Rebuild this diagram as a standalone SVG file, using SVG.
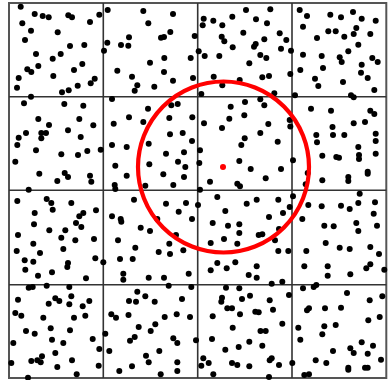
<svg xmlns="http://www.w3.org/2000/svg" width="389" height="380" viewBox="0 0 389 380">
<style>
.grid{stroke:#333;stroke-width:1.6;fill:none}
.border{stroke:#555;stroke-width:2;fill:none}
.pts circle{fill:#000}
.ring{stroke:#f00;stroke-width:4.2;fill:none}
</style>
<rect width="389" height="380" fill="#fff"/>
<g id="grid">
<rect class="border" x="9" y="3" width="377.3" height="375"/>
<path class="grid" d="M103.3 3V378M197.7 3V378M292 3V378M9 96.7H386.3M9 190.3H386.3M9 284.7H386.3"/>
</g>
<g id="points" class="pts">
<circle cx="20.7" cy="6.7" r="3"/><circle cx="34.7" cy="14" r="3"/><circle cx="42.7" cy="16" r="3"/><circle cx="48.7" cy="17.3" r="3"/><circle cx="68.3" cy="15.3" r="3"/><circle cx="72" cy="17.3" r="3"/><circle cx="99.3" cy="14.7" r="3"/><circle cx="107.7" cy="10" r="3"/><circle cx="22.3" cy="23.3" r="3"/><circle cx="90" cy="22" r="3"/><circle cx="31" cy="30.7" r="3"/><circle cx="57.7" cy="32.3" r="3"/><circle cx="129" cy="37.3" r="3"/><circle cx="25" cy="40" r="3"/><circle cx="70" cy="46" r="3"/><circle cx="84.3" cy="45" r="3"/><circle cx="107.3" cy="42.7" r="3"/><circle cx="104" cy="50.7" r="3"/><circle cx="121" cy="45" r="3"/><circle cx="128.3" cy="45.7" r="3"/><circle cx="36" cy="54" r="3"/><circle cx="60.7" cy="54" r="3"/><circle cx="52.7" cy="58.7" r="3"/><circle cx="82.3" cy="64" r="3"/><circle cx="38.3" cy="66" r="3"/><circle cx="27.3" cy="69.3" r="3"/><circle cx="31.3" cy="72" r="3"/><circle cx="74" cy="70" r="3"/><circle cx="117.3" cy="70.7" r="3"/><circle cx="18.7" cy="78" r="3"/><circle cx="53.3" cy="76" r="3"/><circle cx="94.7" cy="78.7" r="3"/><circle cx="90.7" cy="83.3" r="3"/><circle cx="17" cy="87.7" r="3"/><circle cx="77.7" cy="85.7" r="3"/><circle cx="68.7" cy="90.3" r="3"/><circle cx="62" cy="92.3" r="3"/><circle cx="31" cy="96.7" r="3"/><circle cx="24" cy="103.3" r="3"/><circle cx="64.3" cy="104" r="3"/><circle cx="83.3" cy="105.7" r="3"/><circle cx="112" cy="99" r="3"/><circle cx="38.3" cy="119" r="3"/><circle cx="49" cy="125" r="3"/><circle cx="79.3" cy="119" r="3"/><circle cx="93.3" cy="125.3" r="3"/><circle cx="113.7" cy="123.7" r="3"/><circle cx="129" cy="117.3" r="3"/>
<circle cx="143.3" cy="11" r="3"/><circle cx="173" cy="14" r="3"/><circle cx="148.3" cy="23.3" r="3"/><circle cx="161" cy="37.7" r="3"/><circle cx="164" cy="37" r="3"/><circle cx="170.3" cy="32" r="3"/><circle cx="194.7" cy="36" r="3"/><circle cx="203.7" cy="18.7" r="3"/><circle cx="202.7" cy="25.3" r="3"/><circle cx="213.3" cy="20.7" r="3"/><circle cx="222.3" cy="25.3" r="3"/><circle cx="232.3" cy="16.7" r="3"/><circle cx="246" cy="10" r="3"/><circle cx="256" cy="19.3" r="3"/><circle cx="221.7" cy="36.7" r="3"/><circle cx="224.3" cy="41.3" r="3"/><circle cx="243.3" cy="32.7" r="3"/><circle cx="255.7" cy="44" r="3"/><circle cx="254" cy="46.7" r="3"/><circle cx="232.7" cy="47.3" r="3"/><circle cx="198.7" cy="51.3" r="3"/><circle cx="204.7" cy="56" r="3"/><circle cx="219.3" cy="56" r="3"/><circle cx="190.7" cy="58" r="3"/><circle cx="164.3" cy="58" r="3"/><circle cx="150" cy="62.7" r="3"/><circle cx="249.3" cy="63.3" r="3"/><circle cx="164" cy="72" r="3"/><circle cx="132" cy="76.7" r="3"/><circle cx="137.3" cy="85.3" r="3"/><circle cx="134.7" cy="90.7" r="3"/><circle cx="173" cy="80.7" r="3"/><circle cx="154.3" cy="86.7" r="3"/><circle cx="193" cy="78" r="3"/><circle cx="213.7" cy="76.7" r="3"/><circle cx="222.3" cy="85.3" r="3"/><circle cx="239.7" cy="80" r="3"/><circle cx="201.3" cy="94" r="3"/><circle cx="230.7" cy="106.7" r="3"/><circle cx="245" cy="102" r="3"/><circle cx="244.3" cy="115.3" r="3"/><circle cx="229.3" cy="118.7" r="3"/><circle cx="204" cy="123.3" r="3"/><circle cx="192.3" cy="117.3" r="3"/><circle cx="169.3" cy="118" r="3"/><circle cx="171.3" cy="105.3" r="3"/><circle cx="177.7" cy="104" r="3"/><circle cx="148" cy="108.7" r="3"/><circle cx="143.3" cy="122" r="3"/><circle cx="222" cy="128" r="3"/>
<circle cx="270.3" cy="9.3" r="3"/><circle cx="267" cy="23.3" r="3"/><circle cx="264.3" cy="39.3" r="3"/><circle cx="279.7" cy="33.3" r="3"/><circle cx="286.3" cy="40" r="3"/><circle cx="281" cy="48.7" r="3"/><circle cx="291" cy="50.7" r="3"/><circle cx="260.3" cy="55" r="3"/><circle cx="266.3" cy="58" r="3"/><circle cx="262.3" cy="77.3" r="3"/><circle cx="269" cy="76" r="3"/><circle cx="290.3" cy="74" r="3"/><circle cx="274.3" cy="93.3" r="3"/><circle cx="260.3" cy="99.3" r="3"/><circle cx="264.3" cy="105.3" r="3"/><circle cx="289.7" cy="120" r="3"/><circle cx="290.3" cy="126.5" r="3"/><circle cx="268.3" cy="124" r="3"/><circle cx="299.7" cy="10" r="3"/><circle cx="307" cy="16" r="3"/><circle cx="303" cy="26.7" r="3"/><circle cx="330.3" cy="14.7" r="3"/><circle cx="341" cy="17.3" r="3"/><circle cx="353" cy="12" r="3"/><circle cx="361.7" cy="18.7" r="3"/><circle cx="375.7" cy="20.7" r="3"/><circle cx="328.3" cy="31.3" r="3"/><circle cx="335.7" cy="31.3" r="3"/><circle cx="344.3" cy="36.7" r="3"/><circle cx="353.7" cy="34" r="3"/><circle cx="356.3" cy="28" r="3"/><circle cx="370.3" cy="34" r="3"/><circle cx="317" cy="38" r="3"/><circle cx="358.3" cy="44.7" r="3"/><circle cx="303" cy="54.7" r="3"/><circle cx="321.7" cy="56" r="3"/><circle cx="348.3" cy="51.3" r="3"/><circle cx="339.7" cy="57.3" r="3"/><circle cx="341.7" cy="62" r="3"/><circle cx="372.3" cy="58" r="3"/><circle cx="377.7" cy="62" r="3"/><circle cx="361.7" cy="64.7" r="3"/><circle cx="300.3" cy="70" r="3"/><circle cx="323" cy="68" r="3"/><circle cx="361" cy="72.7" r="3"/><circle cx="367.7" cy="78" r="3"/><circle cx="315" cy="78.7" r="3"/><circle cx="318.3" cy="86" r="3"/><circle cx="343" cy="82" r="3"/><circle cx="374.3" cy="90" r="3"/><circle cx="351" cy="95.3" r="3"/><circle cx="353.7" cy="97.3" r="3"/><circle cx="295" cy="95.3" r="3"/><circle cx="311" cy="108.7" r="3"/><circle cx="331" cy="110.7" r="3"/><circle cx="370.3" cy="110.7" r="3"/><circle cx="374.3" cy="114" r="3"/><circle cx="353.7" cy="123.3" r="3"/><circle cx="365" cy="122" r="3"/><circle cx="332.5" cy="127" r="3"/>
<circle cx="68" cy="130.3" r="3"/><circle cx="18.7" cy="137.7" r="3"/><circle cx="26" cy="133" r="3"/><circle cx="41.3" cy="133" r="3"/><circle cx="46" cy="133" r="3"/><circle cx="41.3" cy="138.3" r="3"/><circle cx="17.3" cy="145" r="3"/><circle cx="80.7" cy="137" r="3"/><circle cx="36" cy="150.3" r="3"/><circle cx="61.3" cy="154.3" r="3"/><circle cx="78" cy="155" r="3"/><circle cx="87.3" cy="151" r="3"/><circle cx="100.7" cy="149.7" r="3"/><circle cx="15.3" cy="161.7" r="3"/><circle cx="39.3" cy="173.7" r="3"/><circle cx="64.7" cy="173" r="3"/><circle cx="68" cy="177" r="3"/><circle cx="57.3" cy="181" r="3"/><circle cx="90" cy="175.7" r="3"/><circle cx="91.3" cy="181.7" r="3"/><circle cx="28.7" cy="189.7" r="3"/><circle cx="112" cy="145" r="3"/><circle cx="126.7" cy="147" r="3"/><circle cx="115.3" cy="165.7" r="3"/><circle cx="126.7" cy="175.7" r="3"/><circle cx="114.7" cy="185" r="3"/><circle cx="115.3" cy="189" r="3"/><circle cx="17.3" cy="201" r="3"/><circle cx="46.7" cy="199" r="3"/><circle cx="51.3" cy="203" r="3"/><circle cx="52.7" cy="209.7" r="3"/><circle cx="71.3" cy="203" r="3"/><circle cx="34.7" cy="213" r="3"/><circle cx="96" cy="210.3" r="3"/><circle cx="83.3" cy="213" r="3"/><circle cx="79.3" cy="216.3" r="3"/><circle cx="76" cy="223" r="3"/><circle cx="81.3" cy="227" r="3"/><circle cx="34" cy="224.3" r="3"/><circle cx="49.3" cy="230.3" r="3"/><circle cx="65.3" cy="230.3" r="3"/><circle cx="18" cy="235" r="3"/><circle cx="61.3" cy="237.7" r="3"/><circle cx="75.3" cy="240.3" r="3"/><circle cx="94" cy="239" r="3"/><circle cx="33.3" cy="243.7" r="3"/><circle cx="16.7" cy="251" r="3"/><circle cx="40" cy="253" r="3"/><circle cx="63.3" cy="249" r="3"/><circle cx="112" cy="216.3" r="3"/><circle cx="120.7" cy="219" r="3"/><circle cx="121.3" cy="221.7" r="3"/><circle cx="118" cy="240.3" r="3"/>
<circle cx="170" cy="134.3" r="3"/><circle cx="182.7" cy="133" r="3"/><circle cx="192" cy="141" r="3"/><circle cx="148.7" cy="143.7" r="3"/><circle cx="166" cy="153.7" r="3"/><circle cx="184" cy="152.3" r="3"/><circle cx="200" cy="150.3" r="3"/><circle cx="178" cy="161.7" r="3"/><circle cx="185.3" cy="167" r="3"/><circle cx="199.3" cy="163" r="3"/><circle cx="149.3" cy="164.3" r="3"/><circle cx="163.3" cy="174.3" r="3"/><circle cx="184" cy="177" r="3"/><circle cx="173.3" cy="185" r="3"/><circle cx="145.3" cy="185.7" r="3"/><circle cx="244.7" cy="138.3" r="3"/><circle cx="241.3" cy="145" r="3"/><circle cx="239.3" cy="161" r="3"/><circle cx="250.7" cy="169" r="3"/><circle cx="210" cy="181.7" r="3"/><circle cx="237.3" cy="183.7" r="3"/><circle cx="240" cy="186.3" r="3"/><circle cx="200" cy="189.7" r="3"/><circle cx="134" cy="199.7" r="3"/><circle cx="166" cy="203.7" r="3"/><circle cx="186" cy="203" r="3"/><circle cx="198" cy="205" r="3"/><circle cx="178.7" cy="211.7" r="3"/><circle cx="192" cy="219" r="3"/><circle cx="157.3" cy="219" r="3"/><circle cx="217.3" cy="197" r="3"/><circle cx="246.7" cy="203.7" r="3"/><circle cx="256.7" cy="199.7" r="3"/><circle cx="225.3" cy="211" r="3"/><circle cx="212.7" cy="223" r="3"/><circle cx="228" cy="225.7" r="3"/><circle cx="239.3" cy="224.3" r="3"/><circle cx="239.3" cy="233" r="3"/><circle cx="258.7" cy="235" r="3"/><circle cx="140.7" cy="227.7" r="3"/><circle cx="150" cy="231" r="3"/><circle cx="176" cy="235" r="3"/><circle cx="169.3" cy="243.7" r="3"/><circle cx="135.3" cy="247.7" r="3"/><circle cx="158.7" cy="252" r="3"/><circle cx="183.3" cy="250.3" r="3"/><circle cx="170" cy="254" r="3"/><circle cx="210.7" cy="243" r="3"/><circle cx="224" cy="239" r="3"/><circle cx="237.3" cy="243.7" r="3"/>
<circle cx="260.3" cy="133" r="3"/><circle cx="277.7" cy="141.7" r="3"/><circle cx="293" cy="160.3" r="3"/><circle cx="281" cy="169" r="3"/><circle cx="265.7" cy="178.3" r="3"/><circle cx="316.3" cy="135" r="3"/><circle cx="333" cy="135" r="3"/><circle cx="344.3" cy="135" r="3"/><circle cx="317" cy="142.3" r="3"/><circle cx="375.7" cy="133.7" r="3"/><circle cx="375.7" cy="141" r="3"/><circle cx="358.3" cy="147" r="3"/><circle cx="375.7" cy="153.7" r="3"/><circle cx="322.3" cy="155.7" r="3"/><circle cx="336.3" cy="157" r="3"/><circle cx="339" cy="157.7" r="3"/><circle cx="359" cy="155" r="3"/><circle cx="359" cy="159" r="3"/><circle cx="307.7" cy="173" r="3"/><circle cx="322.3" cy="180.3" r="3"/><circle cx="348.3" cy="177" r="3"/><circle cx="348.3" cy="181" r="3"/><circle cx="367.7" cy="171.7" r="3"/><circle cx="367.7" cy="173.7" r="3"/><circle cx="305.7" cy="184.3" r="3"/><circle cx="293" cy="196.3" r="3"/><circle cx="278.3" cy="199.7" r="3"/><circle cx="289.7" cy="207" r="3"/><circle cx="283" cy="213" r="3"/><circle cx="269" cy="217" r="3"/><circle cx="308.3" cy="205" r="3"/><circle cx="321.7" cy="206.3" r="3"/><circle cx="341" cy="205.7" r="3"/><circle cx="349.7" cy="209" r="3"/><circle cx="359.7" cy="193.7" r="3"/><circle cx="358.3" cy="203" r="3"/><circle cx="375" cy="202.3" r="3"/><circle cx="373.7" cy="213.7" r="3"/><circle cx="302.3" cy="219" r="3"/><circle cx="324.3" cy="225.7" r="3"/><circle cx="333.7" cy="226.3" r="3"/><circle cx="356.3" cy="223" r="3"/><circle cx="358.3" cy="231" r="3"/><circle cx="377" cy="225.7" r="3"/><circle cx="279" cy="229" r="3"/><circle cx="262.3" cy="234.3" r="3"/><circle cx="275" cy="240.3" r="3"/><circle cx="325.7" cy="243" r="3"/><circle cx="339.7" cy="247.7" r="3"/><circle cx="349.7" cy="249" r="3"/><circle cx="370.3" cy="247" r="3"/><circle cx="278.3" cy="251" r="3"/><circle cx="288.3" cy="251" r="3"/><circle cx="306.3" cy="251" r="3"/><circle cx="379" cy="254" r="3"/>
<circle cx="24.7" cy="260.3" r="3"/><circle cx="33.3" cy="261.7" r="3"/><circle cx="25.3" cy="269.7" r="3"/><circle cx="38" cy="275.7" r="3"/><circle cx="52" cy="272.3" r="3"/><circle cx="68" cy="263" r="3"/><circle cx="67.3" cy="267" r="3"/><circle cx="86" cy="278.3" r="3"/><circle cx="95.3" cy="258.3" r="3"/><circle cx="103.3" cy="262.3" r="3"/><circle cx="120" cy="259" r="3"/><circle cx="123.3" cy="273.7" r="3"/><circle cx="123.3" cy="279.7" r="3"/><circle cx="28.7" cy="287.7" r="3"/><circle cx="32.7" cy="287" r="3"/><circle cx="46.7" cy="285.7" r="3"/><circle cx="69.3" cy="287" r="3"/><circle cx="18" cy="299.7" r="3"/><circle cx="55.3" cy="298.3" r="3"/><circle cx="59.3" cy="301" r="3"/><circle cx="48.7" cy="303.7" r="3"/><circle cx="71.3" cy="296.3" r="3"/><circle cx="69.3" cy="304.3" r="3"/><circle cx="82.7" cy="306.3" r="3"/><circle cx="89.3" cy="301" r="3"/><circle cx="15.3" cy="313" r="3"/><circle cx="21.3" cy="315.7" r="3"/><circle cx="43.3" cy="317.7" r="3"/><circle cx="74" cy="317.7" r="3"/><circle cx="85.3" cy="315.7" r="3"/><circle cx="26" cy="331" r="3"/><circle cx="34.7" cy="333.7" r="3"/><circle cx="50.7" cy="328.3" r="3"/><circle cx="70" cy="330.3" r="3"/><circle cx="13.3" cy="343" r="3"/><circle cx="52" cy="339.7" r="3"/><circle cx="63.3" cy="343" r="3"/><circle cx="92.7" cy="339" r="3"/><circle cx="105.3" cy="333.7" r="3"/><circle cx="99.3" cy="349" r="3"/><circle cx="109.3" cy="351" r="3"/><circle cx="111.3" cy="314.3" r="3"/><circle cx="116" cy="317.7" r="3"/><circle cx="128.5" cy="315" r="3"/><circle cx="129" cy="301" r="3"/><circle cx="55.3" cy="353" r="3"/><circle cx="42" cy="356.3" r="3"/><circle cx="31.3" cy="361" r="3"/><circle cx="37.3" cy="360.3" r="3"/><circle cx="40.7" cy="362.3" r="3"/><circle cx="11.3" cy="363" r="3"/><circle cx="72" cy="360.3" r="3"/><circle cx="57.3" cy="367" r="3"/><circle cx="98.7" cy="365.7" r="3"/><circle cx="119.3" cy="371" r="3"/><circle cx="76.7" cy="374.3" r="3"/><circle cx="28" cy="377.7" r="3"/><circle cx="130" cy="340.7" r="3"/>
<circle cx="132.7" cy="259" r="3"/><circle cx="148.7" cy="277.7" r="3"/><circle cx="164" cy="277.7" r="3"/><circle cx="188.7" cy="273.7" r="3"/><circle cx="168.7" cy="285.7" r="3"/><circle cx="191.3" cy="287" r="3"/><circle cx="210.7" cy="270.3" r="3"/><circle cx="217.3" cy="263" r="3"/><circle cx="226.7" cy="268.3" r="3"/><circle cx="235.3" cy="262.3" r="3"/><circle cx="248.7" cy="275" r="3"/><circle cx="256.7" cy="266.3" r="3"/><circle cx="256.7" cy="277.7" r="3"/><circle cx="137.3" cy="291.7" r="3"/><circle cx="145.3" cy="296.3" r="3"/><circle cx="154.7" cy="301.7" r="3"/><circle cx="136" cy="301.7" r="3"/><circle cx="182" cy="299" r="3"/><circle cx="226" cy="287.7" r="3"/><circle cx="239.3" cy="288.3" r="3"/><circle cx="222" cy="297.7" r="3"/><circle cx="221.3" cy="301.7" r="3"/><circle cx="227.3" cy="308.3" r="3"/><circle cx="232" cy="308.3" r="3"/><circle cx="242" cy="299" r="3"/><circle cx="250" cy="295.7" r="3"/><circle cx="255.3" cy="311.7" r="3"/><circle cx="258.7" cy="312.3" r="3"/><circle cx="164.7" cy="317" r="3"/><circle cx="176.7" cy="314.3" r="3"/><circle cx="190" cy="317" r="3"/><circle cx="212.7" cy="316.3" r="3"/><circle cx="240" cy="314.3" r="3"/><circle cx="138.7" cy="327" r="3"/><circle cx="155.3" cy="324.3" r="3"/><circle cx="150.7" cy="331" r="3"/><circle cx="134.7" cy="337" r="3"/><circle cx="173.3" cy="338.3" r="3"/><circle cx="177.3" cy="343" r="3"/><circle cx="196" cy="340.3" r="3"/><circle cx="212" cy="339" r="3"/><circle cx="232.7" cy="327.7" r="3"/><circle cx="249.3" cy="341.7" r="3"/><circle cx="260.5" cy="331" r="3"/><circle cx="159.3" cy="351" r="3"/><circle cx="146" cy="355.7" r="3"/><circle cx="148.7" cy="362.3" r="3"/><circle cx="225.3" cy="349.7" r="3"/><circle cx="238.7" cy="347" r="3"/><circle cx="177.3" cy="362.3" r="3"/><circle cx="177.3" cy="371" r="3"/><circle cx="160.7" cy="374.3" r="3"/><circle cx="132" cy="366.3" r="3"/><circle cx="203.3" cy="358.3" r="3"/><circle cx="208.7" cy="363" r="3"/><circle cx="201.3" cy="365.7" r="3"/><circle cx="213.3" cy="374.3" r="3"/><circle cx="232" cy="363" r="3"/><circle cx="237.3" cy="365" r="3"/><circle cx="249.3" cy="366.3" r="3"/>
<circle cx="304.3" cy="266.3" r="3"/><circle cx="327.7" cy="266.3" r="3"/><circle cx="327.7" cy="275.7" r="3"/><circle cx="350.3" cy="274.3" r="3"/><circle cx="366.3" cy="268.3" r="3"/><circle cx="370.3" cy="264.3" r="3"/><circle cx="384.3" cy="269.7" r="3"/><circle cx="271.7" cy="283.7" r="3"/><circle cx="282.3" cy="281.7" r="3"/><circle cx="303" cy="288.3" r="3"/><circle cx="313.7" cy="287" r="3"/><circle cx="316.3" cy="285" r="3"/><circle cx="289" cy="295" r="3"/><circle cx="347" cy="293" r="3"/><circle cx="269.7" cy="300.3" r="3"/><circle cx="273" cy="309.7" r="3"/><circle cx="307" cy="310.3" r="3"/><circle cx="309" cy="308.3" r="3"/><circle cx="325" cy="308.3" r="3"/><circle cx="341" cy="307.7" r="3"/><circle cx="369.7" cy="300.3" r="3"/><circle cx="382.3" cy="296.3" r="3"/><circle cx="282.3" cy="323.7" r="3"/><circle cx="265.7" cy="331" r="3"/><circle cx="298.3" cy="327.7" r="3"/><circle cx="324.3" cy="326.3" r="3"/><circle cx="322.3" cy="334.3" r="3"/><circle cx="335.7" cy="325" r="3"/><circle cx="368.3" cy="320.3" r="3"/><circle cx="379.7" cy="317" r="3"/><circle cx="300.3" cy="339.7" r="3"/><circle cx="262.3" cy="345.7" r="3"/><circle cx="361.7" cy="342.3" r="3"/><circle cx="373" cy="345.7" r="3"/><circle cx="350.3" cy="348.3" r="3"/><circle cx="353.7" cy="353" r="3"/><circle cx="367.7" cy="353.7" r="3"/><circle cx="333" cy="351" r="3"/><circle cx="271.7" cy="358.3" r="3"/><circle cx="269.7" cy="360.3" r="3"/><circle cx="279" cy="365" r="3"/><circle cx="292.3" cy="363" r="3"/><circle cx="315.7" cy="360.3" r="3"/><circle cx="326.3" cy="363" r="3"/><circle cx="348.3" cy="367.7" r="3"/><circle cx="348.3" cy="369.7" r="3"/><circle cx="365" cy="367.7" r="3"/><circle cx="367.7" cy="367.7" r="3"/><circle cx="381" cy="359.7" r="3"/><circle cx="304.3" cy="375" r="3"/><circle cx="309" cy="374.3" r="3"/><circle cx="269" cy="377" r="3"/>
</g>
<g id="query">
<circle class="ring" cx="223.5" cy="167" r="85.5"/>
<circle cx="223" cy="167" r="3" fill="#f00"/>
</g>
</svg>
